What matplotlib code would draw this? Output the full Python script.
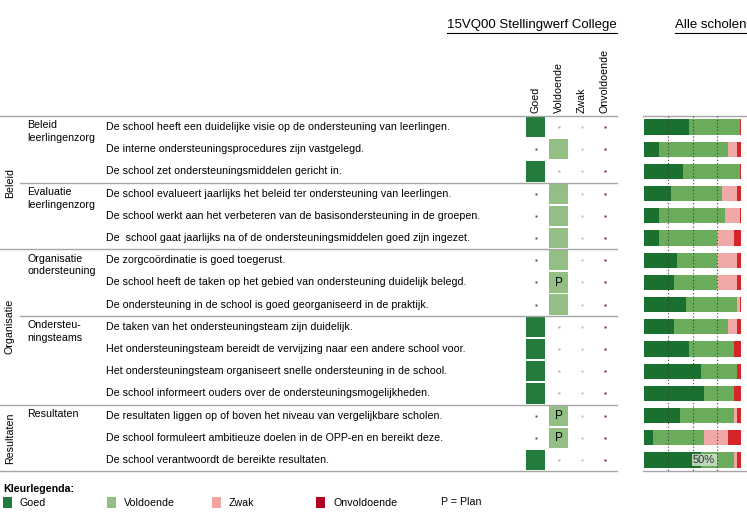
import matplotlib
matplotlib.use("Agg")
import matplotlib.pyplot as plt

plt.rcParams['font.family'] = ['Liberation Sans', 'DejaVu Sans']

# ---------------- data ----------------
groups = ["Beleid", "Organisatie", "Resultaten"]
group_rows = [(0, 5), (6, 12), (13, 15)]          # first,last row index
subgroups = ["Beleid\nleerlingenzorg", "Evaluatie\nleerlingenzorg",
             "Organisatie\nondersteuning", "Ondersteu-\nningsteams", "Resultaten"]
subgroup_rows = [(0, 2), (3, 5), (6, 8), (9, 12), (13, 15)]
items = [
    "De school heeft een duidelijke visie op de ondersteuning van leerlingen.",
    "De interne ondersteuningsprocedures zijn vastgelegd.",
    "De school zet ondersteuningsmiddelen gericht in.",
    "De school evalueert jaarlijks het beleid ter ondersteuning van leerlingen.",
    "De school werkt aan het verbeteren van de basisondersteuning in de groepen.",
    "De  school gaat jaarlijks na of de ondersteuningsmiddelen goed zijn ingezet.",
    "De zorgcoördinatie is goed toegerust.",
    "De school heeft de taken op het gebied van ondersteuning duidelijk belegd.",
    "De ondersteuning in de school is goed georganiseerd in de praktijk.",
    "De taken van het ondersteuningsteam zijn duidelijk.",
    "Het ondersteuningsteam bereidt de vervijzing naar een andere school voor.",
    "Het ondersteuningsteam organiseert snelle ondersteuning in de school.",
    "De school informeert ouders over de ondersteuningsmogelijkheden.",
    "De resultaten liggen op of boven het niveau van vergelijkbare scholen.",
    "De school formuleert ambitieuze doelen in de OPP-en en bereikt deze.",
    "De school verantwoordt de bereikte resultaten.",
]
rating_labels = ["Goed", "Voldoende", "Zwak", "Onvoldoende"]
school_rating = [0, 1, 0, 1, 1, 1, 1, 1, 1, 0, 0, 0, 0, 1, 1, 0]   # index into rating_labels
plan_flag = [0, 0, 0, 0, 0, 0, 0, 1, 0, 0, 0, 0, 0, 1, 1, 0]
pct_goed      = [46, 15, 40, 28, 15, 15, 34, 31, 43, 31, 46, 59, 62, 37, 9, 59]
pct_voldoende = [53, 72, 59, 52, 69, 60, 41, 44, 53, 56, 47, 37, 31, 56, 53, 34]
pct_zwak      = [0, 9, 0, 16, 15, 18, 21, 21, 3, 9, 0, 0, 0, 3, 25, 3]
pct_onvold    = [1, 4, 1, 4, 1, 7, 4, 4, 1, 4, 7, 4, 7, 4, 13, 4]
grid_ticks = [25, 50, 75]
median_label = "50%"

# ---------------- styles ----------------
W, H = 747, 524
row0, dy = 127.0, 22.2
sq_colors = ["#237b3d", "#93bf85", "#f4a3a3", "#b00020"]
dot_colors = ["#2f5f45", "#8fb88a", "#e4a4b4", "#7a1630"]
bar_colors = ["#19702f", "#6aab5c", "#f0a9a8", "#d6262a"]
col_x = [535.5, 558.5, 582.0, 605.0]
line_c = "#a6a6a6"
fs = 7.7

fig = plt.figure(figsize=(W / 100, H / 100), dpi=100)
ax = fig.add_axes([0, 0, 1, 1])
ax.set_xlim(0, W)
ax.set_ylim(H, 0)
ax.axis("off")

def ry(i):
    return row0 + dy * i

# headers
t1 = ax.text(532, 25, "15VQ00 Stellingwerf College", ha="center", va="center", fontsize=9.5)
t2 = ax.text(711, 25, "Alle scholen", ha="center", va="center", fontsize=9.5)
fig.canvas.draw()
inv = ax.transData.inverted()
for t in (t1, t2):
    bb = t.get_window_extent()
    (x0, _), (x1, _) = inv.transform([(bb.x0, bb.y0), (bb.x1, bb.y0)])
    ax.plot([x0, x1], [32.5, 32.5], color="black", lw=0.8)

# column headers
for cx, lab in zip(col_x, rating_labels):
    ax.text(cx, 113, lab, rotation=90, ha="center", va="bottom", fontsize=fs)

# horizontal separators
top_y = ry(0) - dy / 2
ax.plot([0, 617], [top_y, top_y], color=line_c, lw=1)
for (a, b) in group_rows:
    y = ry(b) + dy / 2
    ax.plot([0, 617], [y, y], color=line_c, lw=1)
for (a, b) in subgroup_rows:
    y = ry(b) + dy / 2
    if not any(b == gb for (_, gb) in group_rows):
        ax.plot([20, 617], [y, y], color=line_c, lw=1)

# group labels
for g, (a, b) in zip(groups, group_rows):
    yc = (ry(a) - dy / 2 + ry(b) + dy / 2) / 2
    ax.text(10, yc, g, rotation=90, ha="center", va="center", fontsize=fs)

# subgroup labels
for s, (a, b) in zip(subgroups, subgroup_rows):
    ax.text(27, ry(a) - 6.5, s, ha="left", va="top", fontsize=fs, linespacing=1.32)

# items
for i, txt in enumerate(items):
    ax.text(106, ry(i), txt, ha="left", va="center", fontsize=fs)

# school ratings: squares and dots
sq_w, sq_h = 19.5, 20.5
for i, r in enumerate(school_rating):
    for c in range(4):
        if c == r:
            ax.bar(col_x[c], sq_h, width=sq_w, bottom=ry(i) - sq_h / 2,
                   color=sq_colors[c], linewidth=0)
            if plan_flag[i]:
                ax.text(col_x[c], ry(i) + 0.5, "P", ha="center", va="center", fontsize=8.5)
        else:
            ax.plot(col_x[c], ry(i), marker="s", ms=1.4, color=dot_colors[c], mec="none")

# bar axes top/bottom lines
ax.plot([643, W], [top_y, top_y], color=line_c, lw=1)
ax.plot([643, W], [ry(15) + dy / 2, ry(15) + dy / 2], color=line_c, lw=1)

# stacked bars in their own axes
bx0, bw = 644, 97
bax = fig.add_axes([bx0 / W, 1 - (ry(15) + dy / 2) / H, bw / W, (16 * dy) / H])
bax.set_xlim(0, 100)
bax.set_ylim(15.5, -0.5)
bax.axis("off")
ypos = list(range(len(items)))
left = [0] * len(items)
for vals, col in zip([pct_goed, pct_voldoende, pct_zwak, pct_onvold], bar_colors):
    bax.barh(ypos, vals, left=left, height=0.68, color=col, linewidth=0)
    left = [l + v for l, v in zip(left, vals)]
for g in grid_ticks:
    bax.plot([g, g], [-0.5, 15.5], color="#404040", lw=0.8, ls=(0, (1, 2)), zorder=5)
bax.text(50.6, 15, median_label, ha="left", va="center", fontsize=8, color="#333333", zorder=6,
         bbox=dict(boxstyle="square,pad=0.12", fc="#c9dcc6", ec="none", alpha=0.9))

# colour legend
ax.text(3, 489, "Kleurlegenda:", ha="left", va="center", fontsize=fs, fontweight="bold")
leg_x = [3, 107, 212, 316]
for lx, lab, col in zip(leg_x, rating_labels, sq_colors):
    ax.bar(lx + 4.5, 11, width=9, bottom=496.5, color=col, linewidth=0)
    ax.text(lx + 17, 503, lab, ha="left", va="center", fontsize=fs)
ax.text(441, 502, "P = Plan", ha="left", va="center", fontsize=fs)

fig.savefig("out.png", dpi=100)
